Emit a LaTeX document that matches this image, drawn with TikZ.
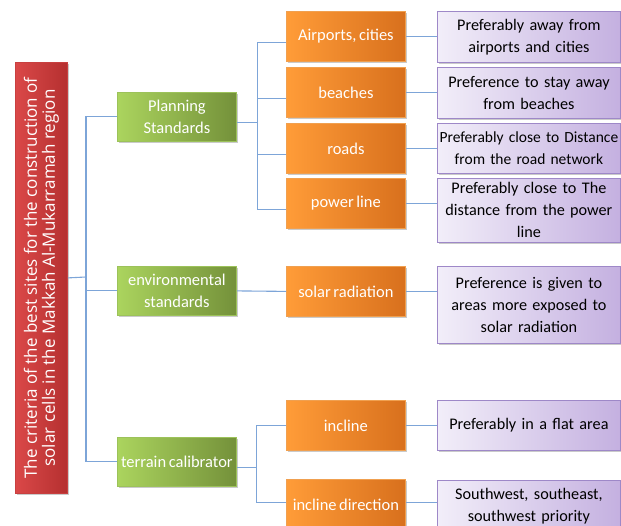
\documentclass[tikz,border=0pt]{standalone}
\usepackage{fontspec}
\setmainfont{Carlito}[WordSpace=0.7]
\newfontfamily\redfont{Open Sans}
\usetikzlibrary{shadows}
\definecolor{grnL}{HTML}{ABD45E}
\definecolor{grnR}{HTML}{74913A}
\definecolor{grnB}{HTML}{9CC25A}
\definecolor{orL}{HTML}{FF9C38}
\definecolor{orR}{HTML}{D8701D}
\definecolor{orB}{HTML}{F0A050}
\definecolor{puL}{HTML}{F2EEF9}
\definecolor{puR}{HTML}{C4B0E0}
\definecolor{puB}{HTML}{9E88C8}
\definecolor{rdL}{HTML}{DA4848}
\definecolor{rdR}{HTML}{B53030}
\definecolor{rdB}{HTML}{C84040}
\definecolor{conn}{HTML}{7DA5D8}
\begin{document}
\begin{tikzpicture}[x=1pt,y=-1pt,
  box/.style={draw, line width=0.8pt, inner sep=2pt, align=center, anchor=north west,
    font=\fontsize{16.5}{22}\selectfont,
    drop shadow={shadow xshift=1.5pt, shadow yshift=-1.5pt, opacity=0.35, fill=black!60}},
  gbox/.style={box, draw=grnB, left color=grnL, right color=grnR, text=white,
    minimum width=119pt, minimum height=49pt},
  obox/.style={box, draw=orB, left color=orL, right color=orR, text=white,
    minimum width=119pt, minimum height=50pt},
  pbox/.style={box, draw=puB, left color=puL, right color=puR, text=black,
    minimum width=183pt, text width=179pt, font=\fontsize{16.2}{22}\selectfont},
  rbox/.style={draw=rdB, line width=0.8pt, left color=rdL, right color=rdR,
    minimum width=52pt, minimum height=431pt, anchor=north west, inner sep=0pt,
    drop shadow={shadow xshift=1.5pt, shadow yshift=-1.5pt, opacity=0.35, fill=black!60}},
  cn/.style={draw=conn, line width=1.1pt}
]
\useasboundingbox (0,0) rectangle (621,526);
\clip (0,0) rectangle (621,526);

% root
\node[rbox] (root) at (15,62) {};
\node[rotate=90, align=center, text=white, font=\redfont\fontsize{17}{18}\selectfont]
  (rootlbl) at (root.center) {The criteria of the best sites for the construction of\\solar cells in the Makkah Al-Mukarramah region};

% level 1
\node[gbox] (ps) at (117,92) {Planning\\Standards};
\node[gbox] (es) at (117,266) {environmental\\standards};
\node[gbox] (tc) at (117,437) {terrain calibrator};

% level 2
\node[obox] (air) at (286,11) {Airports, cities};
\node[obox] (bea) at (286,67) {beaches};
\node[obox] (roa) at (286,123) {roads};
\node[obox] (pow) at (286,178) {power line};
\node[obox] (sol) at (286,266) {solar radiation};
\node[obox] (inc) at (286,400) {incline};
\node[obox] (idr) at (286,479) {incline direction};

% level 3
\node[pbox, minimum height=51pt] (pair) at (437,11) {Preferably away from\\airports and cities};
\node[pbox, minimum height=51pt] (pbea) at (437,67) {Preference to stay away\\from beaches};
\node[pbox, minimum height=50pt, font=\fontsize{15.5}{22}\selectfont] (proa) at (437,123) {Preferably close to Distance\\from the road network};
\node[pbox, minimum height=64pt] (ppow) at (437,178) {Preferably close to The\\distance from the power\\line};
\node[pbox, minimum height=77pt] (psol) at (437,266) {Preference is given to\\areas more exposed to\\solar radiation};
\node[pbox, minimum height=50pt] (pinc) at (437,400) {Preferably in a flat area};
\node[pbox, minimum height=52pt] (pidr) at (437,480) {Southwest, southeast,\\southwest priority};

% connectors: root to level 1
\coordinate (trunk) at (86,277);
\draw[cn] (root.east) -- (trunk);
\draw[cn] (ps.west) -| (trunk) |- (tc.west);
\draw[cn] (es.west) -- (trunk |- es.west);

% level 1 to level 2
\draw[cn] ([yshift=-6pt]ps.east) -- ++(21,0) coordinate (pb);
\foreach \c in {air,bea,roa,pow}{
  \draw[cn] (pb) |- ([yshift=-6pt]\c.west);
}
\draw[cn] (es.east) -- (sol.west);
\draw[cn] ([yshift=-6pt]tc.east) -- ++(20,0) coordinate (tb);
\draw[cn] (tb) |- (inc.west);
\draw[cn] (tb) |- ([yshift=2pt]idr.west);

% level 2 to level 3
\draw[cn] (air.east) -- (pair.west |- air.east);
\draw[cn] (bea.east) -- (pbea.west |- bea.east);
\draw[cn] (roa.east) -- (proa.west |- roa.east);
\draw[cn] (pow.east) -- (ppow.west |- pow.east);
\draw[cn] (sol.east) -- (psol.west |- sol.east);
\draw[cn] (inc.east) -- (pinc.west |- inc.east);
\coordinate (idre) at ([yshift=2pt]idr.east);
\draw[cn] (idre) -- (pidr.west |- idre);
\end{tikzpicture}
\end{document}
